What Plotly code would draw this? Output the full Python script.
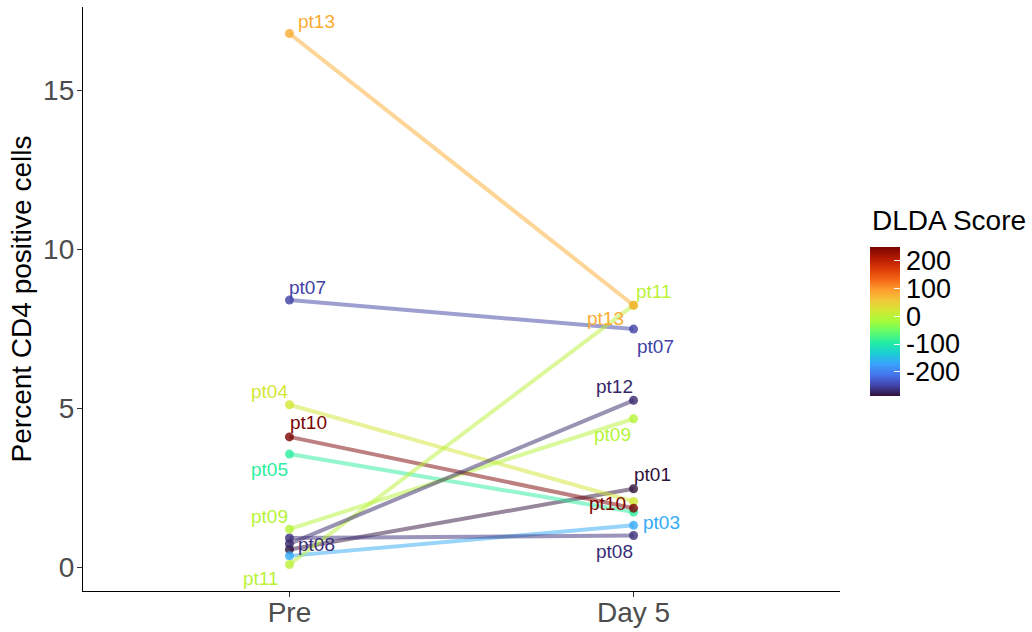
import plotly.graph_objects as go
from plotly.colors import sample_colorscale

# Percent CD4+ cells per patient, before treatment and on day 5
patients = ["pt01", "pt03", "pt04", "pt05", "pt07", "pt08",
            "pt09", "pt10", "pt11", "pt12", "pt13"]
timepoints = ["Pre", "Day 5"]
pct_pre = [0.56, 0.36, 5.11, 3.56, 8.40, 0.92, 1.20, 4.10, 0.09, 0.74, 16.78]
pct_day5 = [2.47, 1.32, 2.07, 1.74, 7.49, 1.00, 4.67, 1.86, 8.24, 5.25, 8.24]
dlda_score = [-286, -165, 20, -90, -250, -265, -5, 248, 0, -270, 80]
score_ticks = [-200, -100, 0, 100, 200]
score_tick_text = ["-200", "-100", "0", "100", "200"]
y_ticks = [0, 5, 10, 15]

# Pixel offsets of the repelled text labels (patients without an entry are unlabelled)
label_offsets = {
    "Pre": {"pt13": (27, 12), "pt07": (18, 13), "pt04": (-20, 13), "pt10": (19, 14),
            "pt05": (-20, -15), "pt09": (-20, 13), "pt11": (-28, -14), "pt08": (27, -6)},
    "Day 5": {"pt11": (20, 14), "pt13": (-28, -13), "pt07": (22, -17), "pt12": (-19, 14),
              "pt09": (-21, -16), "pt01": (19, 14), "pt10": (-26, 5), "pt03": (28, 3),
              "pt08": (-19, -16)},
}

FONT = "Liberation Sans, Arial, Helvetica, sans-serif"
cmin, cmax = min(dlda_score), max(dlda_score)
colors = sample_colorscale("Turbo", [(s - cmin) / (cmax - cmin) for s in dlda_score])

fig = go.Figure()

# connecting lines, one per patient
for name, a, b, col in zip(patients, pct_pre, pct_day5, colors):
    fig.add_trace(go.Scatter(
        x=timepoints, y=[a, b], mode="lines", name=name,
        line=dict(color=col, width=4), opacity=0.5,
        showlegend=False, hoverinfo="skip",
    ))

# points, coloured by score (carries the colour bar)
fig.add_trace(go.Scatter(
    x=[timepoints[0]] * len(patients) + [timepoints[1]] * len(patients),
    y=pct_pre + pct_day5,
    mode="markers",
    text=patients + patients,
    marker=dict(
        size=9, opacity=0.8,
        color=dlda_score + dlda_score,
        colorscale="Turbo", cmin=cmin, cmax=cmax,
        showscale=True,
        colorbar=dict(
            tickvals=score_ticks, ticktext=score_tick_text,
            tickfont=dict(family=FONT, size=27, color="black"),
            ticks="inside", ticklen=6, tickcolor="white", tickwidth=1,
            outlinewidth=0, thickness=30,
            len=149, lenmode="pixels", ypad=0, xpad=0,
            x=1.0396, xanchor="left", y=0.4616, yanchor="middle",
        ),
    ),
    showlegend=False,
))

# legend title for the colour bar
fig.add_annotation(
    text="DLDA Score", xref="paper", yref="paper",
    x=1.0396, y=0.635, xanchor="left", yanchor="middle", showarrow=False,
    font=dict(family=FONT, size=28, color="black"),
)

# patient labels
values = {"Pre": pct_pre, "Day 5": pct_day5}
for tp in timepoints:
    for i, name in enumerate(patients):
        if name not in label_offsets[tp]:
            continue
        dx, dy = label_offsets[tp][name]
        fig.add_annotation(
            x=tp, y=values[tp][i], text=name, showarrow=False,
            xshift=dx, yshift=dy, xanchor="center", yanchor="middle",
            font=dict(family=FONT, size=19, color=colors[i]),
        )

all_vals = pct_pre + pct_day5
span = max(all_vals) - min(all_vals)
y_range = [min(all_vals) - 0.05 * span, max(all_vals) + 0.05 * span]

axis_style = dict(
    showline=True, linecolor="black", linewidth=1.3,
    ticks="outside", ticklen=5, tickcolor="#333333", tickwidth=1,
    tickfont=dict(family=FONT, size=28, color="#4d4d4d"),
    showgrid=False, zeroline=False, automargin=False,
)

fig.update_layout(
    width=1032, height=632,
    margin=dict(l=83, r=192, t=7, b=41, autoexpand=False),
    plot_bgcolor="white", paper_bgcolor="white",
    font=dict(family=FONT),
    xaxis=dict(type="category", categoryorder="array", categoryarray=timepoints,
               range=[-0.6, 1.6], ticklabelstandoff=-9, **axis_style),
    yaxis=dict(range=y_range, tickvals=y_ticks, ticklabelstandoff=-3,
               title=dict(text="Percent CD4 positive cells", standoff=3,
                          font=dict(family=FONT, size=28, color="black")),
               **axis_style),
)

fig.write_html("out.html")
